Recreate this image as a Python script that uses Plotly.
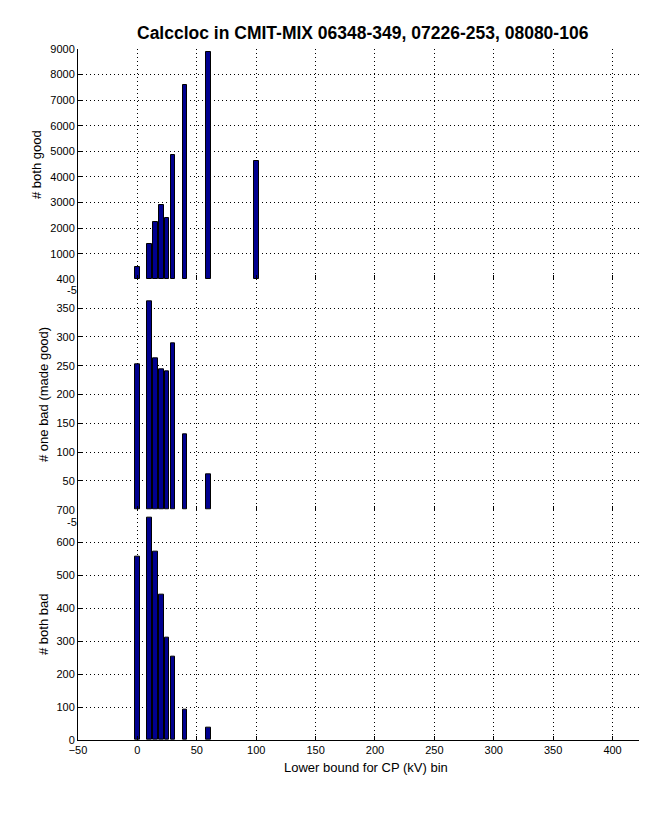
import plotly.graph_objects as go
from plotly.subplots import make_subplots

bins = [0, 10, 15, 20, 25, 30, 40, 60, 100]
both_good = [470, 1400, 2250, 2920, 2400, 4840, 7580, 8900, 4640]
one_bad = [252, 361, 263, 243, 240, 288, 131, 62, None]
both_bad = [557, 677, 573, 442, 312, 254, 93, 36, None]

y_titles = ["# both good", "# one bad (made good)", "# both bad"]
y_ranges = [[0, 9000], [0, 400], [0, 700]]
y_ticks = [list(range(1000, 9001, 1000)), list(range(50, 401, 50)), list(range(0, 701, 100))]
x_ticks = list(range(-50, 401, 50))
title_text = "Calccloc in CMIT-MIX 06348-349, 07226-253, 08080-106"
x_title = "Lower bound for CP (kV) bin"

FONT = "Liberation Sans, Arial, Helvetica, sans-serif"
BAR = "rgb(0,0,143)"

fig = make_subplots(rows=3, cols=1, shared_xaxes=True, vertical_spacing=0)
for i, vals in enumerate([both_good, one_bad, both_bad]):
    fig.add_trace(go.Bar(x=bins, y=vals, width=4,
                         marker=dict(color=BAR, line=dict(color="black", width=1)),
                         showlegend=False), row=i + 1, col=1)
    fig.update_yaxes(range=y_ranges[i], tickvals=y_ticks[i], ticks="inside", ticklen=4,
                     tickcolor="black", showline=True, linecolor="black", linewidth=1,
                     showgrid=True, gridcolor="black", griddash="1px,3px", gridwidth=1,
                     zeroline=False, tickfont=dict(family=FONT, size=11, color="black"),
                     ticklabelstandoff=0,
                     row=i + 1, col=1)
    fig.update_xaxes(range=[-50, 429], tickvals=x_ticks, ticks="inside", ticklen=4,
                     tickcolor="black", showgrid=True, gridcolor="black",
                     griddash="1px,3px", gridwidth=1, zeroline=False,
                     showline=(i == 2), linecolor="black", linewidth=1,
                     showticklabels=(i == 2),
                     tickfont=dict(family=FONT, size=11, color="black"),
                     row=i + 1, col=1)

# page body has an 8px margin; positions below are in window pixels
OFF = 8
WIN_W, WIN_H = 647, 822
FIG_W, FIG_H = WIN_W - OFF, WIN_H - OFF
L, R_EDGE, T, BOT = 78, 647, 49, 740
fig.update_layout(width=FIG_W, height=FIG_H,
                  margin=dict(l=L - OFF, r=FIG_W - (R_EDGE - OFF), t=T - OFF,
                              b=FIG_H - (BOT - OFF), pad=0),
                  plot_bgcolor="white", paper_bgcolor="white", bargap=0,
                  font=dict(family=FONT, color="black"))

def px_x(px):
    return (px - L) / (R_EDGE - L)

def px_y(py):
    return 1 - (py - T) / (BOT - T)

fig.add_annotation(text="<b>" + title_text + "</b>", xref="paper", yref="paper",
                   x=px_x(362.5), y=px_y(33), xanchor="center", yanchor="middle",
                   showarrow=False, font=dict(family=FONT, size=17.5, color="black"))
fig.add_annotation(text=x_title, xref="paper", yref="paper", x=px_x(366), y=px_y(767),
                   xanchor="center", yanchor="middle", showarrow=False,
                   font=dict(family=FONT, size=13, color="black"))
label_x = [36, 43, 43]
label_y = [165, 395, 625]
for i in range(3):
    fig.add_annotation(text=y_titles[i], xref="paper", yref="paper", x=px_x(label_x[i]),
                       y=px_y(label_y[i]), xanchor="center", yanchor="middle",
                       textangle=-90, showarrow=False,
                       font=dict(family=FONT, size=13, color="black"))
for py in [290, 522]:
    fig.add_annotation(text="-5", xref="paper", yref="paper", x=px_x(79), y=px_y(py),
                       xanchor="right", yanchor="middle", showarrow=False,
                       font=dict(family=FONT, size=11, color="black"))

fig.write_html("out.html")
